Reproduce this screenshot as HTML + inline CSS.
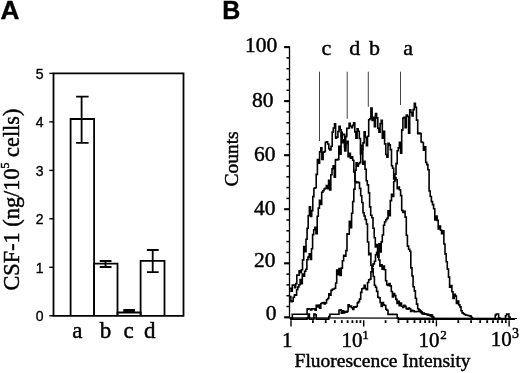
<!DOCTYPE html>
<html><head><meta charset="utf-8"><style>
html,body{margin:0;padding:0;background:#fff;}
body{width:520px;height:373px;overflow:hidden;font-family:"Liberation Sans",sans-serif;}
svg{display:block;filter:grayscale(100%);}
.s{stroke:#000;stroke-width:0.45;}
</style></head><body>
<svg width="520" height="373" viewBox="0 0 520 373">
<rect width="520" height="373" fill="#fff"/>
<text x="0.5" y="18.7" font-family="Liberation Sans" font-weight="bold" font-size="25" stroke="#000" stroke-width="0.35" transform="scale(1.05,1)">A</text>
<text x="222.2" y="18.7" font-family="Liberation Sans" font-weight="bold" font-size="25" stroke="#000" stroke-width="0.35">B</text>
<path d="M53.5 73.4 H183.5 V315.8 H53.5 Z" fill="none" stroke="#000" stroke-width="1.8"/>
<line x1="49.3" y1="315.8" x2="53.5" y2="315.8" stroke="#000" stroke-width="1.4"/>
<text x="43.6" y="321.2" text-anchor="end" font-family="Liberation Sans" font-size="14" stroke="#000" stroke-width="0.35">0</text>
<line x1="49.3" y1="267.3" x2="53.5" y2="267.3" stroke="#000" stroke-width="1.4"/>
<text x="43.6" y="272.7" text-anchor="end" font-family="Liberation Sans" font-size="14" stroke="#000" stroke-width="0.35">1</text>
<line x1="49.3" y1="218.8" x2="53.5" y2="218.8" stroke="#000" stroke-width="1.4"/>
<text x="43.6" y="224.2" text-anchor="end" font-family="Liberation Sans" font-size="14" stroke="#000" stroke-width="0.35">2</text>
<line x1="49.3" y1="170.4" x2="53.5" y2="170.4" stroke="#000" stroke-width="1.4"/>
<text x="43.6" y="175.8" text-anchor="end" font-family="Liberation Sans" font-size="14" stroke="#000" stroke-width="0.35">3</text>
<line x1="49.3" y1="121.9" x2="53.5" y2="121.9" stroke="#000" stroke-width="1.4"/>
<text x="43.6" y="127.3" text-anchor="end" font-family="Liberation Sans" font-size="14" stroke="#000" stroke-width="0.35">4</text>
<line x1="49.3" y1="73.4" x2="53.5" y2="73.4" stroke="#000" stroke-width="1.4"/>
<text x="43.6" y="78.8" text-anchor="end" font-family="Liberation Sans" font-size="14" stroke="#000" stroke-width="0.35">5</text>
<path d="M70.6 315.8 V119.0 H94.1 V315.8" fill="none" stroke="#000" stroke-width="1.8"/>
<path d="M94.1 315.8 V263.6 H117.5 V315.8" fill="none" stroke="#000" stroke-width="1.8"/>
<path d="M117.5 315.8 V312.5 H140.6 V315.8" fill="none" stroke="#000" stroke-width="1.8"/>
<path d="M140.6 315.8 V260.8 H164.5 V315.8" fill="none" stroke="#000" stroke-width="1.8"/>
<path d="M81.6 96.7 V142.9 M76.1 96.7 H88.6 M76.1 142.9 H88.6" fill="none" stroke="#000" stroke-width="1.8"/>
<path d="M105.5 261.0 V267.0 M99.7 261.0 H111.5 M99.7 267.0 H111.5" fill="none" stroke="#000" stroke-width="1.8"/>
<path d="M152.7 250.0 V272.2 M146.9 250.0 H158.7 M146.9 272.2 H158.7" fill="none" stroke="#000" stroke-width="1.8"/>
<rect x="123.3" y="309" width="11.7" height="4" fill="#000"/>
<text x="77.3" y="337.5" text-anchor="middle" class="s" font-family="Liberation Serif" font-size="23">a</text>
<text x="105.5" y="337.5" text-anchor="middle" class="s" font-family="Liberation Serif" font-size="23">b</text>
<text x="128.5" y="337.5" text-anchor="middle" class="s" font-family="Liberation Serif" font-size="23">c</text>
<text x="149.8" y="337.5" text-anchor="middle" class="s" font-family="Liberation Serif" font-size="23">d</text>
<text transform="translate(18.8,290.5) rotate(-90)" x="0" y="0" class="s" font-family="Liberation Serif" font-size="22.3">CSF-1 (ng/10<tspan dy="-9.5" font-size="12">5</tspan><tspan dy="9.5"> cells)</tspan></text>
<line x1="289.5" y1="46.3" x2="289.5" y2="318.5" stroke="#000" stroke-width="1.3"/>
<line x1="289.5" y1="317.9" x2="517" y2="318.3" stroke="#000" stroke-width="1.3"/>
<line x1="284.1" y1="317.3" x2="289.5" y2="317.3" stroke="#000" stroke-width="2.1"/>
<text x="276.6" y="320.4" text-anchor="end" class="s" font-family="Liberation Serif" font-size="21.5">0</text>
<line x1="286.4" y1="306.5" x2="289.5" y2="306.5" stroke="#000" stroke-width="1.5"/>
<line x1="286.4" y1="295.7" x2="289.5" y2="295.7" stroke="#000" stroke-width="1.5"/>
<line x1="286.4" y1="284.9" x2="289.5" y2="284.9" stroke="#000" stroke-width="1.5"/>
<line x1="286.4" y1="274.1" x2="289.5" y2="274.1" stroke="#000" stroke-width="1.5"/>
<line x1="284.1" y1="263.3" x2="289.5" y2="263.3" stroke="#000" stroke-width="2.1"/>
<text x="275.6" y="267.4" text-anchor="end" class="s" font-family="Liberation Serif" font-size="21.5">20</text>
<line x1="286.4" y1="252.5" x2="289.5" y2="252.5" stroke="#000" stroke-width="1.5"/>
<line x1="286.4" y1="241.6" x2="289.5" y2="241.6" stroke="#000" stroke-width="1.5"/>
<line x1="286.4" y1="230.8" x2="289.5" y2="230.8" stroke="#000" stroke-width="1.5"/>
<line x1="286.4" y1="220.0" x2="289.5" y2="220.0" stroke="#000" stroke-width="1.5"/>
<line x1="284.1" y1="209.2" x2="289.5" y2="209.2" stroke="#000" stroke-width="2.1"/>
<text x="275.6" y="215.0" text-anchor="end" class="s" font-family="Liberation Serif" font-size="21.5">40</text>
<line x1="286.4" y1="198.4" x2="289.5" y2="198.4" stroke="#000" stroke-width="1.5"/>
<line x1="286.4" y1="187.6" x2="289.5" y2="187.6" stroke="#000" stroke-width="1.5"/>
<line x1="286.4" y1="176.8" x2="289.5" y2="176.8" stroke="#000" stroke-width="1.5"/>
<line x1="286.4" y1="166.0" x2="289.5" y2="166.0" stroke="#000" stroke-width="1.5"/>
<line x1="284.1" y1="155.2" x2="289.5" y2="155.2" stroke="#000" stroke-width="2.1"/>
<text x="275.6" y="160.6" text-anchor="end" class="s" font-family="Liberation Serif" font-size="21.5">60</text>
<line x1="286.4" y1="144.4" x2="289.5" y2="144.4" stroke="#000" stroke-width="1.5"/>
<line x1="286.4" y1="133.6" x2="289.5" y2="133.6" stroke="#000" stroke-width="1.5"/>
<line x1="286.4" y1="122.8" x2="289.5" y2="122.8" stroke="#000" stroke-width="1.5"/>
<line x1="286.4" y1="111.9" x2="289.5" y2="111.9" stroke="#000" stroke-width="1.5"/>
<line x1="284.1" y1="101.1" x2="289.5" y2="101.1" stroke="#000" stroke-width="2.1"/>
<text x="273.4" y="107.4" text-anchor="end" class="s" font-family="Liberation Serif" font-size="21.5">80</text>
<line x1="286.4" y1="90.3" x2="289.5" y2="90.3" stroke="#000" stroke-width="1.5"/>
<line x1="286.4" y1="79.5" x2="289.5" y2="79.5" stroke="#000" stroke-width="1.5"/>
<line x1="286.4" y1="68.7" x2="289.5" y2="68.7" stroke="#000" stroke-width="1.5"/>
<line x1="286.4" y1="57.9" x2="289.5" y2="57.9" stroke="#000" stroke-width="1.5"/>
<line x1="284.1" y1="47.1" x2="289.5" y2="47.1" stroke="#000" stroke-width="2.1"/>
<text x="277.3" y="52.4" text-anchor="end" class="s" font-family="Liberation Serif" font-size="21.5">100</text>
<line x1="291.0" y1="320.2" x2="291.0" y2="326.4" stroke="#000" stroke-width="1.4"/>
<line x1="312.9" y1="320.2" x2="312.9" y2="323" stroke="#000" stroke-width="1.8"/>
<line x1="325.7" y1="320.2" x2="325.7" y2="323" stroke="#000" stroke-width="1.8"/>
<line x1="334.8" y1="320.2" x2="334.8" y2="323" stroke="#000" stroke-width="1.8"/>
<line x1="341.8" y1="320.2" x2="341.8" y2="323" stroke="#000" stroke-width="1.8"/>
<line x1="347.6" y1="320.2" x2="347.6" y2="323" stroke="#000" stroke-width="1.8"/>
<line x1="352.4" y1="320.2" x2="352.4" y2="323" stroke="#000" stroke-width="1.8"/>
<line x1="356.7" y1="320.2" x2="356.7" y2="323" stroke="#000" stroke-width="1.8"/>
<line x1="360.4" y1="320.2" x2="360.4" y2="323" stroke="#000" stroke-width="1.8"/>
<line x1="363.7" y1="320.2" x2="363.7" y2="326.4" stroke="#000" stroke-width="1.4"/>
<line x1="385.6" y1="320.2" x2="385.6" y2="323" stroke="#000" stroke-width="1.8"/>
<line x1="398.4" y1="320.2" x2="398.4" y2="323" stroke="#000" stroke-width="1.8"/>
<line x1="407.5" y1="320.2" x2="407.5" y2="323" stroke="#000" stroke-width="1.8"/>
<line x1="414.5" y1="320.2" x2="414.5" y2="323" stroke="#000" stroke-width="1.8"/>
<line x1="420.3" y1="320.2" x2="420.3" y2="323" stroke="#000" stroke-width="1.8"/>
<line x1="425.1" y1="320.2" x2="425.1" y2="323" stroke="#000" stroke-width="1.8"/>
<line x1="429.4" y1="320.2" x2="429.4" y2="323" stroke="#000" stroke-width="1.8"/>
<line x1="433.1" y1="320.2" x2="433.1" y2="323" stroke="#000" stroke-width="1.8"/>
<line x1="436.4" y1="320.2" x2="436.4" y2="326.4" stroke="#000" stroke-width="1.4"/>
<line x1="458.3" y1="320.2" x2="458.3" y2="323" stroke="#000" stroke-width="1.8"/>
<line x1="471.1" y1="320.2" x2="471.1" y2="323" stroke="#000" stroke-width="1.8"/>
<line x1="480.2" y1="320.2" x2="480.2" y2="323" stroke="#000" stroke-width="1.8"/>
<line x1="487.2" y1="320.2" x2="487.2" y2="323" stroke="#000" stroke-width="1.8"/>
<line x1="493.0" y1="320.2" x2="493.0" y2="323" stroke="#000" stroke-width="1.8"/>
<line x1="497.8" y1="320.2" x2="497.8" y2="323" stroke="#000" stroke-width="1.8"/>
<line x1="502.1" y1="320.2" x2="502.1" y2="323" stroke="#000" stroke-width="1.8"/>
<line x1="505.8" y1="320.2" x2="505.8" y2="323" stroke="#000" stroke-width="1.8"/>
<line x1="509.1" y1="320.2" x2="509.1" y2="326.4" stroke="#000" stroke-width="1.4"/>
<text x="292.5" y="347" text-anchor="end" class="s" font-family="Liberation Serif" font-size="21">1</text>
<text x="362.5" y="347" text-anchor="end" class="s" font-family="Liberation Serif" font-size="21">10</text>
<text x="362.3" y="339" class="s" font-family="Liberation Serif" font-size="13">1</text>
<text x="439.6" y="347" text-anchor="end" class="s" font-family="Liberation Serif" font-size="21">10</text>
<text x="440.2" y="339" class="s" font-family="Liberation Serif" font-size="13">2</text>
<text x="511.8" y="345.6" text-anchor="end" class="s" font-family="Liberation Serif" font-size="21">10</text>
<text x="511.9" y="338.3" class="s" font-family="Liberation Serif" font-size="14">3</text>
<text x="294.6" y="367.4" class="s" font-family="Liberation Serif" font-size="19.5">Fluorescence Intensity</text>
<text transform="translate(237.8,186.6) rotate(-90)" class="s" font-family="Liberation Serif" font-size="19.5">Counts</text>
<text x="326.3" y="55.2" text-anchor="middle" class="s" font-family="Liberation Serif" font-size="22">c</text>
<text x="354.8" y="55.2" text-anchor="middle" class="s" font-family="Liberation Serif" font-size="22">d</text>
<text x="374.4" y="55.2" text-anchor="middle" class="s" font-family="Liberation Serif" font-size="22">b</text>
<text x="408.2" y="55.2" text-anchor="middle" class="s" font-family="Liberation Serif" font-size="22">a</text>
<line x1="319.5" y1="71.7" x2="319.5" y2="141" stroke="#444" stroke-width="1"/>
<line x1="347.2" y1="71.7" x2="347.2" y2="118.8" stroke="#444" stroke-width="1"/>
<line x1="368.3" y1="71.7" x2="368.3" y2="106.8" stroke="#444" stroke-width="1"/>
<line x1="400.5" y1="71.7" x2="400.5" y2="105" stroke="#444" stroke-width="1"/>
<g fill="none" stroke="#000" stroke-width="1.6" stroke-linejoin="miter">
<path d="M290.0 288.2 L291.1 288.2 L291.1 291.3 L292.3 291.3 L292.3 285.0 L293.4 285.0 L293.4 285.1 L294.6 285.1 L294.6 287.6 L295.7 287.6 L295.7 283.6 L296.8 283.6 L296.8 275.0 L298.0 275.0 L298.0 275.3 L299.1 275.3 L299.1 270.7 L300.3 270.7 L300.3 272.8 L301.4 272.8 L301.4 269.7 L302.5 269.7 L302.5 260.0 L303.7 260.0 L303.7 246.5 L304.8 246.5 L304.8 251.7 L306.0 251.7 L306.0 239.3 L307.1 239.3 L307.1 228.3 L308.2 228.3 L308.2 215.5 L309.4 215.5 L309.4 206.9 L310.5 206.9 L310.5 216.5 L311.7 216.5 L311.7 210.6 L312.8 210.6 L312.8 196.6 L313.9 196.6 L313.9 188.2 L315.1 188.2 L315.1 187.8 L316.2 187.8 L316.2 174.4 L317.4 174.4 L317.4 159.6 L318.5 159.6 L318.5 163.3 L319.6 163.3 L319.6 151.9 L320.8 151.9 L320.8 147.9 L321.9 147.9 L321.9 159.5 L323.1 159.5 L323.1 152.3 L324.2 152.3 L324.2 151.6 L325.3 151.6 L325.3 142.2 L326.5 142.2 L326.5 141.7 L327.6 141.7 L327.6 144.0 L328.8 144.0 L328.8 148.7 L329.9 148.7 L329.9 149.9 L331.0 149.9 L331.0 146.3 L332.2 146.3 L332.2 132.1 L333.3 132.1 L333.3 128.0 L334.5 128.0 L334.5 123.8 L335.6 123.8 L335.6 138.2 L336.7 138.2 L336.7 137.1 L337.9 137.1 L337.9 131.6 L339.0 131.6 L339.0 126.2 L340.2 126.2 L340.2 129.9 L341.3 129.9 L341.3 137.0 L342.4 137.0 L342.4 134.8 L343.6 134.8 L343.6 134.4 L344.7 134.4 L344.7 150.9 L345.9 150.9 L345.9 143.5 L347.0 143.5 L347.0 141.4 L348.1 141.4 L348.1 156.6 L349.3 156.6 L349.3 153.3 L350.4 153.3 L350.4 158.3 L351.6 158.3 L351.6 156.9 L352.7 156.9 L352.7 160.3 L353.8 160.3 L353.8 172.0 L355.0 172.0 L355.0 181.5 L356.1 181.5 L356.1 182.6 L357.3 182.6 L357.3 182.1 L358.4 182.1 L358.4 182.6 L359.5 182.6 L359.5 188.4 L360.7 188.4 L360.7 195.8 L361.8 195.8 L361.8 202.5 L363.0 202.5 L363.0 212.7 L364.1 212.7 L364.1 216.0 L365.2 216.0 L365.2 219.5 L366.4 219.5 L366.4 224.0 L367.5 224.0 L367.5 242.0 L368.7 242.0 L368.7 254.6 L369.8 254.6 L369.8 253.3 L370.9 253.3 L370.9 265.3 L372.1 265.3 L372.1 268.7 L373.2 268.7 L373.2 276.5 L374.4 276.5 L374.4 285.3 L375.5 285.3 L375.5 287.3 L376.6 287.3 L376.6 291.4 L377.8 291.4 L377.8 297.3 L378.9 297.3 L378.9 297.8 L380.1 297.8 L380.1 302.5 L381.2 302.5 L381.2 306.5 L382.3 306.5 L382.3 302.6 L383.5 302.6 L383.5 304.9 L384.6 304.9 L384.6 305.5 L385.8 305.5 L385.8 309.3 L386.9 309.3 L386.9 310.2 L388.0 310.2 L388.0 314.4 L389.2 314.4 L389.2 314.4 L390.3 314.4 L390.3 314.4 L391.5 314.4 L391.5 314.4 L392.6 314.4 L392.6 314.4 L393.7 314.4 L393.7 314.4 L394.9 314.4 L394.9 314.4 L396.0 314.4 L396.0 314.5 L397.2 314.5 L397.2 318.0 L398.3 318.0 L398.3 319.1 L399.4 319.1 L399.4 319.1 L400.6 319.1 L400.6 319.1 L401.7 319.1 L401.7 319.1 L402.9 319.1 L402.9 319.1 L404.0 319.1 L404.0 319.1 L405.1 319.1 L405.1 319.1 L406.3 319.1 L406.3 319.1 L407.4 319.1 L407.4 319.1 L408.6 319.1 L408.6 319.1 L409.7 319.1 L409.7 319.1 L410.8 319.1 L410.8 319.1 L412.0 319.1 L412.0 319.1 L413.1 319.1 L413.1 319.1 L414.3 319.1 L414.3 319.1 L415.4 319.1 L415.4 319.1 L416.5 319.1 L416.5 319.1 L417.7 319.1 L417.7 319.1 L418.8 319.1 L418.8 319.1 L420.0 319.1 L420.0 319.1 L421.1 319.1 L421.1 319.1 L422.2 319.1 L422.2 319.1 L423.4 319.1 L423.4 319.1 L424.5 319.1 L424.5 319.1 L425.7 319.1 L425.7 319.1 L426.8 319.1 L426.8 319.1 L427.9 319.1 L427.9 319.1 L429.1 319.1 L429.1 319.1 L430.2 319.1 L430.2 319.1 L431.4 319.1 L431.4 319.1 L432.5 319.1 L432.5 319.1 L433.6 319.1 L433.6 319.1 L434.8 319.1 L434.8 319.1 L435.9 319.1 L435.9 319.1 L437.1 319.1 L437.1 319.1 L438.2 319.1 L438.2 319.1 L439.3 319.1 L439.3 319.1 L440.5 319.1 L440.5 319.1 L441.6 319.1 L441.6 319.1 L442.8 319.1 L442.8 319.1 L443.9 319.1 L443.9 319.1 L445.0 319.1 L445.0 319.1 L446.2 319.1 L446.2 319.1 L447.3 319.1 L447.3 319.1 L448.5 319.1 L448.5 319.1 L449.6 319.1 L449.6 319.1 L450.7 319.1 L450.7 319.1 L451.9 319.1 L451.9 319.1 L453.0 319.1 L453.0 319.1 L454.2 319.1 L454.2 319.1 L455.3 319.1 L455.3 319.1 L456.4 319.1 L456.4 319.1 L457.6 319.1 L457.6 319.1 L458.7 319.1 L458.7 319.1 L459.9 319.1 L459.9 319.1 L461.0 319.1 L461.0 319.1 L462.1 319.1 L462.1 319.1 L463.3 319.1 L463.3 319.1 L464.4 319.1 L464.4 319.1 L465.6 319.1 L465.6 319.1 L466.7 319.1 L466.7 319.1 L467.8 319.1 L467.8 319.1 L469.0 319.1 L469.0 319.1 L470.1 319.1 L470.1 319.1 L471.3 319.1 L471.3 319.1 L472.4 319.1 L472.4 319.1 L473.5 319.1 L473.5 319.1 L474.7 319.1 L474.7 319.1 L475.8 319.1 L475.8 319.1 L477.0 319.1 L477.0 319.1 L478.1 319.1 L478.1 319.1 L479.2 319.1 L479.2 319.1 L480.4 319.1 L480.4 319.1 L481.5 319.1 L481.5 319.1 L482.7 319.1 L482.7 319.1 L483.8 319.1 L483.8 319.1 L484.9 319.1 L484.9 319.1 L486.1 319.1 L486.1 319.1 L487.2 319.1 L487.2 319.1 L488.4 319.1 L488.4 319.1 L489.5 319.1 L489.5 319.1 L490.6 319.1 L490.6 319.1 L491.8 319.1 L491.8 319.1 L492.9 319.1 L492.9 319.1 L494.1 319.1 L494.1 319.1 L495.2 319.1 L495.2 319.1 L496.3 319.1 L496.3 319.1 L497.5 319.1 L497.5 319.1 L498.6 319.1 L498.6 319.1 L499.8 319.1 L499.8 319.1 L500.9 319.1 L500.9 319.1 L502.0 319.1 L502.0 319.1 L503.2 319.1 L503.2 319.1 L504.3 319.1 L504.3 319.1 L505.5 319.1 L505.5 319.1 L506.6 319.1 L506.6 319.1 L507.7 319.1 L507.7 319.1 L508.9 319.1 L508.9 319.1 L510.0 319.1 L510.0 319.1 L511.2 319.1 L511.2 319.1 L512.3 319.1 L512.3 319.1 L513.4 319.1 L513.4 319.1 L514.6 319.1 L514.6 319.1"/>
<path d="M289.8 296.5 L290.9 296.5 L290.9 301.8 L292.1 301.8 L292.1 301.1 L293.2 301.1 L293.2 297.2 L294.4 297.2 L294.4 294.8 L295.5 294.8 L295.5 295.1 L296.6 295.1 L296.6 289.7 L297.8 289.7 L297.8 287.0 L298.9 287.0 L298.9 284.8 L300.1 284.8 L300.1 279.5 L301.2 279.5 L301.2 283.7 L302.3 283.7 L302.3 274.0 L303.5 274.0 L303.5 276.2 L304.6 276.2 L304.6 271.2 L305.8 271.2 L305.8 269.3 L306.9 269.3 L306.9 259.8 L308.0 259.8 L308.0 257.1 L309.2 257.1 L309.2 253.9 L310.3 253.9 L310.3 259.5 L311.5 259.5 L311.5 248.7 L312.6 248.7 L312.6 234.6 L313.7 234.6 L313.7 229.7 L314.9 229.7 L314.9 227.3 L316.0 227.3 L316.0 233.8 L317.2 233.8 L317.2 216.3 L318.3 216.3 L318.3 208.1 L319.4 208.1 L319.4 200.4 L320.6 200.4 L320.6 204.4 L321.7 204.4 L321.7 192.3 L322.9 192.3 L322.9 190.8 L324.0 190.8 L324.0 189.0 L325.1 189.0 L325.1 188.2 L326.3 188.2 L326.3 185.5 L327.4 185.5 L327.4 188.7 L328.6 188.7 L328.6 180.4 L329.7 180.4 L329.7 190.0 L330.8 190.0 L330.8 174.8 L332.0 174.8 L332.0 168.7 L333.1 168.7 L333.1 165.7 L334.3 165.7 L334.3 177.1 L335.4 177.1 L335.4 159.5 L336.5 159.5 L336.5 159.9 L337.7 159.9 L337.7 159.4 L338.8 159.4 L338.8 146.2 L340.0 146.2 L340.0 154.1 L341.1 154.1 L341.1 132.2 L342.2 132.2 L342.2 142.7 L343.4 142.7 L343.4 139.9 L344.5 139.9 L344.5 147.0 L345.7 147.0 L345.7 136.6 L346.8 136.6 L346.8 128.4 L347.9 128.4 L347.9 128.2 L349.1 128.2 L349.1 123.3 L350.2 123.3 L350.2 126.2 L351.4 126.2 L351.4 127.8 L352.5 127.8 L352.5 125.4 L353.6 125.4 L353.6 122.9 L354.8 122.9 L354.8 131.9 L355.9 131.9 L355.9 138.2 L357.1 138.2 L357.1 128.7 L358.2 128.7 L358.2 131.3 L359.3 131.3 L359.3 138.5 L360.5 138.5 L360.5 153.9 L361.6 153.9 L361.6 149.7 L362.8 149.7 L362.8 164.2 L363.9 164.2 L363.9 161.2 L365.0 161.2 L365.0 169.3 L366.2 169.3 L366.2 180.8 L367.3 180.8 L367.3 184.9 L368.5 184.9 L368.5 192.9 L369.6 192.9 L369.6 206.9 L370.7 206.9 L370.7 215.2 L371.9 215.2 L371.9 217.7 L373.0 217.7 L373.0 228.2 L374.2 228.2 L374.2 237.8 L375.3 237.8 L375.3 246.9 L376.4 246.9 L376.4 244.6 L377.6 244.6 L377.6 253.3 L378.7 253.3 L378.7 260.0 L379.9 260.0 L379.9 266.2 L381.0 266.2 L381.0 264.7 L382.1 264.7 L382.1 269.3 L383.3 269.3 L383.3 266.0 L384.4 266.0 L384.4 269.8 L385.6 269.8 L385.6 280.8 L386.7 280.8 L386.7 284.6 L387.8 284.6 L387.8 285.5 L389.0 285.5 L389.0 283.6 L390.1 283.6 L390.1 285.9 L391.3 285.9 L391.3 291.5 L392.4 291.5 L392.4 296.9 L393.5 296.9 L393.5 293.5 L394.7 293.5 L394.7 295.6 L395.8 295.6 L395.8 299.4 L397.0 299.4 L397.0 303.5 L398.1 303.5 L398.1 301.2 L399.2 301.2 L399.2 305.6 L400.4 305.6 L400.4 303.0 L401.5 303.0 L401.5 306.2 L402.7 306.2 L402.7 307.5 L403.8 307.5 L403.8 305.2 L404.9 305.2 L404.9 306.2 L406.1 306.2 L406.1 308.5 L407.2 308.5 L407.2 309.2 L408.4 309.2 L408.4 308.1 L409.5 308.1 L409.5 308.7 L410.6 308.7 L410.6 311.4 L411.8 311.4 L411.8 310.4 L412.9 310.4 L412.9 310.7 L414.1 310.7 L414.1 311.6 L415.2 311.6 L415.2 311.8 L416.3 311.8 L416.3 311.5 L417.5 311.5 L417.5 311.5 L418.6 311.5 L418.6 311.4 L419.8 311.4 L419.8 311.6 L420.9 311.6 L420.9 311.9 L422.0 311.9 L422.0 313.2 L423.2 313.2 L423.2 313.1 L424.3 313.1 L424.3 313.7 L425.5 313.7 L425.5 314.2 L426.6 314.2 L426.6 314.5 L427.7 314.5 L427.7 314.9 L428.9 314.9 L428.9 315.3 L430.0 315.3 L430.0 315.7 L431.2 315.7 L431.2 316.2 L432.3 316.2 L432.3 317.3 L433.4 317.3 L433.4 318.5 L434.6 318.5 L434.6 319.1 L435.7 319.1 L435.7 319.1 L436.9 319.1 L436.9 319.1 L438.0 319.1 L438.0 319.1 L439.1 319.1 L439.1 319.1 L440.3 319.1 L440.3 319.1 L441.4 319.1 L441.4 319.1 L442.6 319.1 L442.6 319.1 L443.7 319.1 L443.7 319.1 L444.8 319.1 L444.8 319.1 L446.0 319.1 L446.0 319.1 L447.1 319.1 L447.1 319.1 L448.3 319.1 L448.3 319.1 L449.4 319.1 L449.4 319.1 L450.5 319.1 L450.5 319.1 L451.7 319.1 L451.7 319.1 L452.8 319.1 L452.8 319.1 L454.0 319.1 L454.0 319.1 L455.1 319.1 L455.1 319.1 L456.2 319.1 L456.2 319.1 L457.4 319.1 L457.4 319.1 L458.5 319.1 L458.5 319.1 L459.7 319.1 L459.7 319.1 L460.8 319.1 L460.8 319.1 L461.9 319.1 L461.9 319.1 L463.1 319.1 L463.1 319.1 L464.2 319.1 L464.2 319.1 L465.4 319.1 L465.4 319.1 L466.5 319.1 L466.5 319.1 L467.6 319.1 L467.6 319.1 L468.8 319.1 L468.8 319.1 L469.9 319.1 L469.9 319.1 L471.1 319.1 L471.1 319.1 L472.2 319.1 L472.2 319.1 L473.3 319.1 L473.3 319.1 L474.5 319.1 L474.5 319.1 L475.6 319.1 L475.6 319.1 L476.8 319.1 L476.8 319.1 L477.9 319.1 L477.9 319.1 L479.0 319.1 L479.0 319.1 L480.2 319.1 L480.2 319.1 L481.3 319.1 L481.3 319.1 L482.5 319.1 L482.5 319.1 L483.6 319.1 L483.6 319.1 L484.7 319.1 L484.7 319.1 L485.9 319.1 L485.9 319.1 L487.0 319.1 L487.0 319.1 L488.2 319.1 L488.2 319.1 L489.3 319.1 L489.3 319.1 L490.4 319.1 L490.4 319.1 L491.6 319.1 L491.6 319.1 L492.7 319.1 L492.7 319.1 L493.9 319.1 L493.9 319.1 L495.0 319.1 L495.0 319.1 L496.1 319.1 L496.1 319.1 L497.3 319.1 L497.3 319.1 L498.4 319.1 L498.4 319.1 L499.6 319.1 L499.6 319.1 L500.7 319.1 L500.7 319.1 L501.8 319.1 L501.8 319.1 L503.0 319.1 L503.0 319.1 L504.1 319.1 L504.1 319.1 L505.3 319.1 L505.3 319.1 L506.4 319.1 L506.4 319.1 L507.5 319.1 L507.5 319.1 L508.7 319.1 L508.7 319.1 L509.8 319.1 L509.8 319.1 L511.0 319.1 L511.0 319.1 L512.1 319.1 L512.1 319.1 L513.2 319.1 L513.2 319.1 L514.4 319.1 L514.4 319.1"/>
<path d="M290.0 319.1 L291.1 319.1 L291.1 318.4 L292.3 318.4 L292.3 314.3 L293.4 314.3 L293.4 314.3 L294.6 314.3 L294.6 314.3 L295.7 314.3 L295.7 314.3 L296.8 314.3 L296.8 314.3 L298.0 314.3 L298.0 314.3 L299.1 314.3 L299.1 314.3 L300.3 314.3 L300.3 314.3 L301.4 314.3 L301.4 314.3 L302.5 314.3 L302.5 314.3 L303.7 314.3 L303.7 314.3 L304.8 314.3 L304.8 314.3 L306.0 314.3 L306.0 314.3 L307.1 314.3 L307.1 309.1 L308.2 309.1 L308.2 308.9 L309.4 308.9 L309.4 309.0 L310.5 309.0 L310.5 309.9 L311.7 309.9 L311.7 308.9 L312.8 308.9 L312.8 309.0 L313.9 309.0 L313.9 308.9 L315.1 308.9 L315.1 310.1 L316.2 310.1 L316.2 305.2 L317.4 305.2 L317.4 306.9 L318.5 306.9 L318.5 305.0 L319.6 305.0 L319.6 308.1 L320.8 308.1 L320.8 303.5 L321.9 303.5 L321.9 303.0 L323.1 303.0 L323.1 302.5 L324.2 302.5 L324.2 303.9 L325.3 303.9 L325.3 302.9 L326.5 302.9 L326.5 299.8 L327.6 299.8 L327.6 298.5 L328.8 298.5 L328.8 293.7 L329.9 293.7 L329.9 295.2 L331.0 295.2 L331.0 290.4 L332.2 290.4 L332.2 289.4 L333.3 289.4 L333.3 289.0 L334.5 289.0 L334.5 288.3 L335.6 288.3 L335.6 283.0 L336.7 283.0 L336.7 270.0 L337.9 270.0 L337.9 274.7 L339.0 274.7 L339.0 268.5 L340.2 268.5 L340.2 275.4 L341.3 275.4 L341.3 268.1 L342.4 268.1 L342.4 260.8 L343.6 260.8 L343.6 255.3 L344.7 255.3 L344.7 256.3 L345.9 256.3 L345.9 250.6 L347.0 250.6 L347.0 233.8 L348.1 233.8 L348.1 234.1 L349.3 234.1 L349.3 221.3 L350.4 221.3 L350.4 227.6 L351.6 227.6 L351.6 213.3 L352.7 213.3 L352.7 201.6 L353.8 201.6 L353.8 189.2 L355.0 189.2 L355.0 170.3 L356.1 170.3 L356.1 162.8 L357.3 162.8 L357.3 166.2 L358.4 166.2 L358.4 163.7 L359.5 163.7 L359.5 162.6 L360.7 162.6 L360.7 145.4 L361.8 145.4 L361.8 149.4 L363.0 149.4 L363.0 142.9 L364.1 142.9 L364.1 131.9 L365.2 131.9 L365.2 137.4 L366.4 137.4 L366.4 145.6 L367.5 145.6 L367.5 136.2 L368.7 136.2 L368.7 119.8 L369.8 119.8 L369.8 118.7 L370.9 118.7 L370.9 108.0 L372.1 108.0 L372.1 120.5 L373.2 120.5 L373.2 117.4 L374.4 117.4 L374.4 126.7 L375.5 126.7 L375.5 113.6 L376.6 113.6 L376.6 117.9 L377.8 117.9 L377.8 128.3 L378.9 128.3 L378.9 132.1 L380.1 132.1 L380.1 123.6 L381.2 123.6 L381.2 120.4 L382.3 120.4 L382.3 138.3 L383.5 138.3 L383.5 131.3 L384.6 131.3 L384.6 143.9 L385.8 143.9 L385.8 154.5 L386.9 154.5 L386.9 157.1 L388.0 157.1 L388.0 143.2 L389.2 143.2 L389.2 144.9 L390.3 144.9 L390.3 149.6 L391.5 149.6 L391.5 165.8 L392.6 165.8 L392.6 168.2 L393.7 168.2 L393.7 178.9 L394.9 178.9 L394.9 177.6 L396.0 177.6 L396.0 179.8 L397.2 179.8 L397.2 188.8 L398.3 188.8 L398.3 187.1 L399.4 187.1 L399.4 189.8 L400.6 189.8 L400.6 195.6 L401.7 195.6 L401.7 210.4 L402.9 210.4 L402.9 212.4 L404.0 212.4 L404.0 211.2 L405.1 211.2 L405.1 217.1 L406.3 217.1 L406.3 235.3 L407.4 235.3 L407.4 246.1 L408.6 246.1 L408.6 249.3 L409.7 249.3 L409.7 251.2 L410.8 251.2 L410.8 267.9 L412.0 267.9 L412.0 276.0 L413.1 276.0 L413.1 286.7 L414.3 286.7 L414.3 290.9 L415.4 290.9 L415.4 298.2 L416.5 298.2 L416.5 304.1 L417.7 304.1 L417.7 308.8 L418.8 308.8 L418.8 309.9 L420.0 309.9 L420.0 311.0 L421.1 311.0 L421.1 312.8 L422.2 312.8 L422.2 313.9 L423.4 313.9 L423.4 314.0 L424.5 314.0 L424.5 314.1 L425.7 314.1 L425.7 314.3 L426.8 314.3 L426.8 314.4 L427.9 314.4 L427.9 314.5 L429.1 314.5 L429.1 314.7 L430.2 314.7 L430.2 314.8 L431.4 314.8 L431.4 315.0 L432.5 315.0 L432.5 316.9 L433.6 316.9 L433.6 318.8 L434.8 318.8 L434.8 319.1 L435.9 319.1 L435.9 319.1 L437.1 319.1 L437.1 319.1 L438.2 319.1 L438.2 319.1 L439.3 319.1 L439.3 319.1 L440.5 319.1 L440.5 319.1 L441.6 319.1 L441.6 319.1 L442.8 319.1 L442.8 319.1 L443.9 319.1 L443.9 319.1 L445.0 319.1 L445.0 319.1 L446.2 319.1 L446.2 319.1 L447.3 319.1 L447.3 319.1 L448.5 319.1 L448.5 319.1 L449.6 319.1 L449.6 319.1 L450.7 319.1 L450.7 319.1 L451.9 319.1 L451.9 319.1 L453.0 319.1 L453.0 319.1 L454.2 319.1 L454.2 319.1 L455.3 319.1 L455.3 319.1 L456.4 319.1 L456.4 319.1 L457.6 319.1 L457.6 319.1 L458.7 319.1 L458.7 319.1 L459.9 319.1 L459.9 319.1 L461.0 319.1 L461.0 319.1 L462.1 319.1 L462.1 319.1 L463.3 319.1 L463.3 319.1 L464.4 319.1 L464.4 319.1 L465.6 319.1 L465.6 319.1 L466.7 319.1 L466.7 319.1 L467.8 319.1 L467.8 319.1 L469.0 319.1 L469.0 319.1 L470.1 319.1 L470.1 319.1 L471.3 319.1 L471.3 319.1 L472.4 319.1 L472.4 319.1 L473.5 319.1 L473.5 319.1 L474.7 319.1 L474.7 319.1 L475.8 319.1 L475.8 319.1 L477.0 319.1 L477.0 319.1 L478.1 319.1 L478.1 319.1 L479.2 319.1 L479.2 319.1 L480.4 319.1 L480.4 319.1 L481.5 319.1 L481.5 319.1 L482.7 319.1 L482.7 319.1 L483.8 319.1 L483.8 319.1 L484.9 319.1 L484.9 319.1 L486.1 319.1 L486.1 319.1 L487.2 319.1 L487.2 319.1 L488.4 319.1 L488.4 319.1 L489.5 319.1 L489.5 319.1 L490.6 319.1 L490.6 319.1 L491.8 319.1 L491.8 319.1 L492.9 319.1 L492.9 319.1 L494.1 319.1 L494.1 319.1 L495.2 319.1 L495.2 319.1 L496.3 319.1 L496.3 319.1 L497.5 319.1 L497.5 319.1 L498.6 319.1 L498.6 319.1 L499.8 319.1 L499.8 319.1 L500.9 319.1 L500.9 319.1 L502.0 319.1 L502.0 319.1 L503.2 319.1 L503.2 319.1 L504.3 319.1 L504.3 319.1 L505.5 319.1 L505.5 319.1 L506.6 319.1 L506.6 319.1 L507.7 319.1 L507.7 319.1 L508.9 319.1 L508.9 319.1 L510.0 319.1 L510.0 319.1 L511.2 319.1 L511.2 319.1 L512.3 319.1 L512.3 319.1 L513.4 319.1 L513.4 319.1 L514.6 319.1 L514.6 319.1"/>
<path d="M290.0 319.1 L291.1 319.1 L291.1 319.1 L292.3 319.1 L292.3 319.1 L293.4 319.1 L293.4 319.1 L294.6 319.1 L294.6 319.1 L295.7 319.1 L295.7 319.1 L296.8 319.1 L296.8 319.1 L298.0 319.1 L298.0 319.1 L299.1 319.1 L299.1 319.1 L300.3 319.1 L300.3 319.1 L301.4 319.1 L301.4 319.1 L302.5 319.1 L302.5 319.1 L303.7 319.1 L303.7 319.1 L304.8 319.1 L304.8 319.1 L306.0 319.1 L306.0 319.1 L307.1 319.1 L307.1 318.1 L308.2 318.1 L308.2 314.1 L309.4 314.1 L309.4 319.1 L310.5 319.1 L310.5 319.1 L311.7 319.1 L311.7 319.1 L312.8 319.1 L312.8 319.1 L313.9 319.1 L313.9 314.1 L315.1 314.1 L315.1 314.8 L316.2 314.8 L316.2 319.1 L317.4 319.1 L317.4 319.1 L318.5 319.1 L318.5 319.1 L319.6 319.1 L319.6 319.1 L320.8 319.1 L320.8 319.1 L321.9 319.1 L321.9 319.1 L323.1 319.1 L323.1 319.1 L324.2 319.1 L324.2 319.1 L325.3 319.1 L325.3 319.1 L326.5 319.1 L326.5 319.1 L327.6 319.1 L327.6 319.1 L328.8 319.1 L328.8 316.6 L329.9 316.6 L329.9 314.3 L331.0 314.3 L331.0 314.3 L332.2 314.3 L332.2 314.3 L333.3 314.3 L333.3 314.3 L334.5 314.3 L334.5 314.3 L335.6 314.3 L335.6 314.3 L336.7 314.3 L336.7 314.3 L337.9 314.3 L337.9 314.3 L339.0 314.3 L339.0 310.3 L340.2 310.3 L340.2 309.7 L341.3 309.7 L341.3 313.1 L342.4 313.1 L342.4 310.8 L343.6 310.8 L343.6 313.0 L344.7 313.0 L344.7 311.6 L345.9 311.6 L345.9 312.1 L347.0 312.1 L347.0 311.4 L348.1 311.4 L348.1 304.7 L349.3 304.7 L349.3 306.7 L350.4 306.7 L350.4 306.1 L351.6 306.1 L351.6 307.8 L352.7 307.8 L352.7 309.5 L353.8 309.5 L353.8 306.8 L355.0 306.8 L355.0 307.3 L356.1 307.3 L356.1 306.5 L357.3 306.5 L357.3 302.9 L358.4 302.9 L358.4 301.6 L359.5 301.6 L359.5 299.1 L360.7 299.1 L360.7 292.4 L361.8 292.4 L361.8 288.8 L363.0 288.8 L363.0 288.3 L364.1 288.3 L364.1 285.4 L365.2 285.4 L365.2 288.7 L366.4 288.7 L366.4 289.7 L367.5 289.7 L367.5 282.5 L368.7 282.5 L368.7 279.8 L369.8 279.8 L369.8 279.2 L370.9 279.2 L370.9 271.9 L372.1 271.9 L372.1 266.4 L373.2 266.4 L373.2 263.9 L374.4 263.9 L374.4 261.2 L375.5 261.2 L375.5 254.7 L376.6 254.7 L376.6 252.4 L377.8 252.4 L377.8 257.3 L378.9 257.3 L378.9 243.7 L380.1 243.7 L380.1 251.9 L381.2 251.9 L381.2 241.9 L382.3 241.9 L382.3 235.0 L383.5 235.0 L383.5 225.2 L384.6 225.2 L384.6 221.8 L385.8 221.8 L385.8 219.8 L386.9 219.8 L386.9 218.4 L388.0 218.4 L388.0 210.9 L389.2 210.9 L389.2 215.7 L390.3 215.7 L390.3 200.6 L391.5 200.6 L391.5 194.2 L392.6 194.2 L392.6 196.5 L393.7 196.5 L393.7 181.5 L394.9 181.5 L394.9 174.1 L396.0 174.1 L396.0 163.6 L397.2 163.6 L397.2 150.7 L398.3 150.7 L398.3 147.9 L399.4 147.9 L399.4 142.4 L400.6 142.4 L400.6 153.2 L401.7 153.2 L401.7 129.9 L402.9 129.9 L402.9 118.0 L404.0 118.0 L404.0 117.4 L405.1 117.4 L405.1 127.6 L406.3 127.6 L406.3 115.1 L407.4 115.1 L407.4 116.5 L408.6 116.5 L408.6 133.1 L409.7 133.1 L409.7 109.8 L410.8 109.8 L410.8 112.5 L412.0 112.5 L412.0 115.9 L413.1 115.9 L413.1 109.6 L414.3 109.6 L414.3 103.3 L415.4 103.3 L415.4 107.2 L416.5 107.2 L416.5 120.1 L417.7 120.1 L417.7 133.7 L418.8 133.7 L418.8 133.1 L420.0 133.1 L420.0 133.6 L421.1 133.6 L421.1 142.0 L422.2 142.0 L422.2 142.5 L423.4 142.5 L423.4 150.1 L424.5 150.1 L424.5 146.9 L425.7 146.9 L425.7 162.4 L426.8 162.4 L426.8 164.6 L427.9 164.6 L427.9 169.8 L429.1 169.8 L429.1 191.0 L430.2 191.0 L430.2 196.5 L431.4 196.5 L431.4 201.6 L432.5 201.6 L432.5 204.6 L433.6 204.6 L433.6 208.7 L434.8 208.7 L434.8 220.0 L435.9 220.0 L435.9 216.0 L437.1 216.0 L437.1 220.4 L438.2 220.4 L438.2 229.0 L439.3 229.0 L439.3 226.1 L440.5 226.1 L440.5 230.2 L441.6 230.2 L441.6 233.8 L442.8 233.8 L442.8 230.9 L443.9 230.9 L443.9 244.0 L445.0 244.0 L445.0 253.9 L446.2 253.9 L446.2 261.8 L447.3 261.8 L447.3 269.1 L448.5 269.1 L448.5 277.1 L449.6 277.1 L449.6 287.1 L450.7 287.1 L450.7 285.5 L451.9 285.5 L451.9 291.8 L453.0 291.8 L453.0 298.4 L454.2 298.4 L454.2 294.2 L455.3 294.2 L455.3 296.1 L456.4 296.1 L456.4 303.4 L457.6 303.4 L457.6 301.1 L458.7 301.1 L458.7 304.9 L459.9 304.9 L459.9 306.9 L461.0 306.9 L461.0 310.8 L462.1 310.8 L462.1 312.9 L463.3 312.9 L463.3 313.7 L464.4 313.7 L464.4 314.5 L465.6 314.5 L465.6 315.1 L466.7 315.1 L466.7 315.3 L467.8 315.3 L467.8 315.5 L469.0 315.5 L469.0 315.8 L470.1 315.8 L470.1 316.1 L471.3 316.1 L471.3 317.6 L472.4 317.6 L472.4 319.0 L473.5 319.0 L473.5 319.1 L474.7 319.1 L474.7 319.1 L475.8 319.1 L475.8 319.1 L477.0 319.1 L477.0 319.1 L478.1 319.1 L478.1 319.1 L479.2 319.1 L479.2 319.1 L480.4 319.1 L480.4 319.1 L481.5 319.1 L481.5 319.1 L482.7 319.1 L482.7 319.1 L483.8 319.1 L483.8 319.1 L484.9 319.1 L484.9 319.1 L486.1 319.1 L486.1 319.1 L487.2 319.1 L487.2 319.1 L488.4 319.1 L488.4 319.1 L489.5 319.1 L489.5 319.1 L490.6 319.1 L490.6 319.1 L491.8 319.1 L491.8 319.1 L492.9 319.1 L492.9 319.1 L494.1 319.1 L494.1 318.9 L495.2 318.9 L495.2 315.0 L496.3 315.0 L496.3 314.0 L497.5 314.0 L497.5 314.0 L498.6 314.0 L498.6 317.8 L499.8 317.8 L499.8 319.1 L500.9 319.1 L500.9 319.1 L502.0 319.1 L502.0 319.1 L503.2 319.1 L503.2 319.1 L504.3 319.1 L504.3 319.1 L505.5 319.1 L505.5 315.8 L506.6 315.8 L506.6 314.1 L507.7 314.1 L507.7 314.0 L508.9 314.0 L508.9 317.0 L510.0 317.0 L510.0 319.1 L511.2 319.1 L511.2 319.1 L512.3 319.1 L512.3 319.1 L513.4 319.1 L513.4 319.1 L514.6 319.1 L514.6 319.1"/>
</g>
</svg>
</body></html>
